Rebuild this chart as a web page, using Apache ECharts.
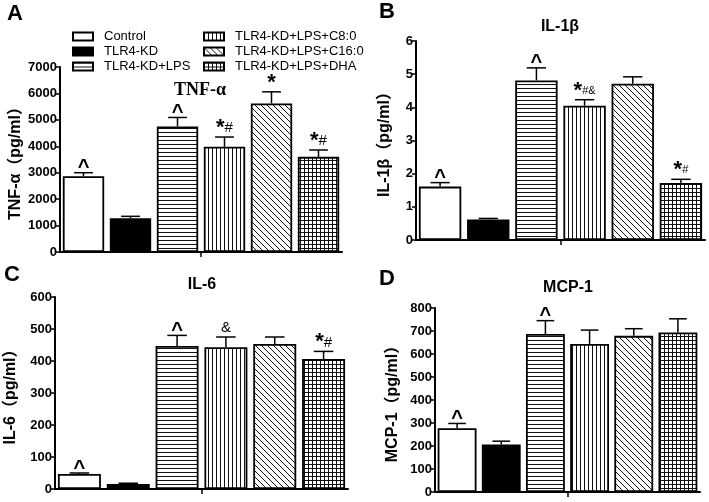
<!DOCTYPE html>
<html>
<head>
<meta charset="utf-8">
<script src="https://cdn.jsdelivr.net/npm/echarts@6/dist/echarts.min.js"></script>
<style>html,body{margin:0;background:#fff}#chart{width:709px;height:502px}</style>
</head>
<body>
<div id="chart"></div>
<script>
// groups, same order in every panel
const groups = ['Control', 'TLR4-KD', 'TLR4-KD+LPS', 'TLR4-KD+LPS+C8:0', 'TLR4-KD+LPS+C16:0', 'TLR4-KD+LPS+DHA'];

// A - TNF-α
const tnfMean = [2870, 1280, 4750, 3980, 5620, 3600];
const tnfUpper = [3000, 1350, 5090, 4350, 6060, 3860];
const tnfNotes = ['^', '', '^', '*#', '*', '*#'];
// B - IL-1β
const il1bMean = [1.61, 0.62, 4.81, 4.05, 4.71, 1.72];
const il1bUpper = [1.73, 0.65, 5.19, 4.23, 4.92, 1.83];
const il1bNotes = ['^', '', '^', '*#&', '', '*#'];
// C - IL-6
const il6Mean = [47, 16, 447, 443, 453, 406];
const il6Upper = [50, 18, 480, 475, 475, 430];
const il6Notes = ['^', '', '^', '&', '', '*#'];
// D - MCP-1
const mcpMean = [277, 207, 687, 644, 679, 694];
const mcpUpper = [298, 221, 745, 704, 710, 753];
const mcpNotes = ['^', '', '^', '', '', ''];

const yTicksA = [0, 7000, 1000];
const yTicksB = [0, 6, 1];
const yTicksC = [0, 600, 100];
const yTicksD = [0, 800, 100];

function makePattern(kind) {
  const s = kind === 'diag' ? 6 : 4;
  const c = document.createElement('canvas');
  c.width = s; c.height = s;
  const g = c.getContext('2d');
  g.fillStyle = '#fff';
  g.fillRect(0, 0, s, s);
  g.strokeStyle = '#111';
  g.lineWidth = 1;
  g.beginPath();
  if (kind === 'h' || kind === 'grid') { g.moveTo(0, 0.5); g.lineTo(s, 0.5); }
  if (kind === 'v' || kind === 'grid') { g.moveTo(0.5, 0); g.lineTo(0.5, s); }
  if (kind === 'diag') {
    [-s, 0, s].forEach(k => { g.moveTo(k, 0); g.lineTo(k + s, s); });
  }
  g.stroke();
  return { image: c, repeat: 'repeat' };
}

const fills = ['#fff', '#000', makePattern('h'), makePattern('v'), makePattern('diag'), makePattern('grid')];

const panels = [
  { mean: tnfMean, upper: tnfUpper, notes: tnfNotes, ticks: yTicksA, yName: 'TNF-α（pg/ml）', nameGap: 36, subSize: 15,
    grid: { left: 60, top: 67, width: 282, height: 185 } },
  { mean: il1bMean, upper: il1bUpper, notes: il1bNotes, ticks: yTicksB, yName: 'IL-1β（pg/ml）', nameGap: 23, subSize: 11,
    grid: { left: 416, top: 41, width: 289, height: 199 } },
  { mean: il6Mean, upper: il6Upper, notes: il6Notes, ticks: yTicksC, yName: 'IL-6（pg/ml）', nameGap: 36, subSize: 15,
    grid: { left: 55, top: 297, width: 293, height: 192 } },
  { mean: mcpMean, upper: mcpUpper, notes: mcpNotes, ticks: yTicksD, yName: 'MCP-1（pg/ml）', nameGap: 34, subSize: 15,
    grid: { left: 435, top: 308, width: 265, height: 184 } }
];

function noteText(note) {
  return note.split('').map(ch => ch === '*' ? '{s|*}' : ch === '^' ? '{c|^}' : '{t|' + ch + '}').join('');
}

function errRenderer(notes, subSize) {
  return function (params, api) {
    const j = api.value(0);
    const base = api.coord([j, api.value(1)]);
    const top = api.coord([j, api.value(2)]);
    const half = api.size([1, 0])[0] * 0.2;
    const ls = { stroke: '#000', lineWidth: 1.5 };
    const kids = [
      { type: 'line', shape: { x1: base[0], y1: base[1], x2: top[0], y2: top[1] }, style: ls },
      { type: 'line', shape: { x1: top[0] - half, y1: top[1], x2: top[0] + half, y2: top[1] }, style: ls }
    ];
    const note = notes[params.dataIndex];
    if (note) {
      const dy = note === '^' ? 7 : note.charAt(0) === '*' ? 4 : 0;
      kids.push({
        type: 'text', x: top[0], y: top[1] - 2 + dy,
        style: {
          text: noteText(note), align: 'center', verticalAlign: 'bottom', fill: '#000',
          rich: {
            s: { fontSize: 22, fontWeight: 'bold', fill: '#000', fontFamily: 'Liberation Sans' },
            c: { fontSize: 20, fontWeight: 'bold', fill: '#000', fontFamily: 'Liberation Sans' },
            t: { fontSize: subSize, fill: '#000', fontFamily: 'Liberation Sans' }
          }
        }
      });
    }
    return { type: 'group', children: kids };
  };
}

const grids = [], xAxes = [], yAxes = [], series = [];
panels.forEach((p, k) => {
  grids.push(p.grid);
  xAxes.push({
    gridIndex: k, type: 'category', data: groups, boundaryGap: true,
    axisLine: { lineStyle: { color: '#000', width: 2 } },
    axisTick: { show: false }, axisLabel: { show: false }
  });
  // single tick in the middle of the x axis
  xAxes.push({
    gridIndex: k, type: 'value', position: 'bottom', min: 0, max: 6,
    axisLine: { show: false }, axisLabel: { show: false }, splitLine: { show: false },
    axisTick: { show: true, customValues: [3], length: 5, lineStyle: { color: '#000', width: 1.5 } }
  });
  yAxes.push({
    gridIndex: k, type: 'value', min: p.ticks[0], max: p.ticks[1], interval: p.ticks[2],
    name: p.yName, nameLocation: 'middle', nameGap: p.nameGap,
    nameTextStyle: { fontSize: 16, fontWeight: 'bold', color: '#000', fontFamily: 'Liberation Sans, Noto Sans CJK SC' },
    axisLine: { show: true, lineStyle: { color: '#000', width: 2 } },
    axisTick: { show: true, length: 4, lineStyle: { color: '#000', width: 1.5 } },
    axisLabel: { color: '#000', fontWeight: 'bold', fontSize: 13, margin: 3, formatter: v => String(v) },
    splitLine: { show: false }
  });
  groups.forEach((g, i) => {
    series.push({
      type: 'bar', name: g, xAxisIndex: 2 * k, yAxisIndex: k, stack: 'p' + k, barWidth: '88%',
      data: groups.map((_, j) => j === i ? p.mean[j] : '-'),
      itemStyle: { color: fills[i], borderColor: '#000', borderWidth: 1.8 },
      silent: true
    });
  });
  series.push({
    type: 'custom', xAxisIndex: 2 * k, yAxisIndex: k, z: 10, silent: true,
    data: p.mean.map((m, j) => [j, m, p.upper[j]]),
    renderItem: errRenderer(p.notes, p.subSize)
  });
});

const chart = echarts.init(document.getElementById('chart'));
chart.setOption({
  animation: false,
  backgroundColor: '#fff',
  textStyle: { fontFamily: 'Liberation Sans' },
  title: [
    { text: 'A', left: 7, top: 3, padding: 0, textStyle: { fontSize: 22, fontWeight: 'bold', color: '#000' } },
    { text: 'B', left: 379, top: 1, padding: 0, textStyle: { fontSize: 22, fontWeight: 'bold', color: '#000' } },
    { text: 'C', left: 4, top: 264, padding: 0, textStyle: { fontSize: 22, fontWeight: 'bold', color: '#000' } },
    { text: 'D', left: 379, top: 268, padding: 0, textStyle: { fontSize: 22, fontWeight: 'bold', color: '#000' } }
  ],
  graphic: [
    { type: 'text', x: 200, y: 90, style: { text: 'TNF-α', font: 'bold 18px "Liberation Serif"', align: 'center', verticalAlign: 'middle', fill: '#000' } },
    { type: 'text', x: 560, y: 27, style: { text: 'IL-1β', font: 'bold 16px "Liberation Sans"', align: 'center', verticalAlign: 'middle', fill: '#000' } },
    { type: 'text', x: 202, y: 285, style: { text: 'IL-6', font: 'bold 16px "Liberation Sans"', align: 'center', verticalAlign: 'middle', fill: '#000' } },
    { type: 'text', x: 568, y: 288, style: { text: 'MCP-1', font: 'bold 16px "Liberation Sans"', align: 'center', verticalAlign: 'middle', fill: '#000' } }
  ],
  legend: [
    { left: 67, top: 25, orient: 'vertical', icon: 'rect', itemWidth: 20, itemHeight: 8, itemGap: 2,
      selectedMode: false, data: groups.slice(0, 3), textStyle: { fontSize: 13, color: '#000', padding: [0, 0, 0, 6] } },
    { left: 198, top: 25, orient: 'vertical', icon: 'rect', itemWidth: 20, itemHeight: 8, itemGap: 2,
      selectedMode: false, data: groups.slice(3), textStyle: { fontSize: 13, color: '#000', padding: [0, 0, 0, 6] } }
  ],
  grid: grids,
  xAxis: xAxes,
  yAxis: yAxes,
  series: series
});
</script>
</body>
</html>
